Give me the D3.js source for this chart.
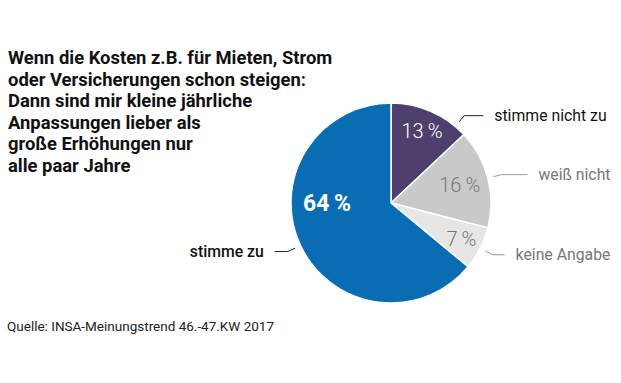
<!DOCTYPE html>
<html>
<head>
<meta charset="utf-8">
<script src="https://cdn.jsdelivr.net/npm/d3@7"></script>
<style>
  body { margin: 0; background: #fff; }
  svg { display: block; font-family: Roboto, "DejaVu Sans", sans-serif; }
</style>
</head>
<body>
<svg id="chart" width="621" height="383"></svg>
<script>
// Survey answers, clockwise from 12 o'clock
const categories = ['stimme nicht zu', 'weiß nicht', 'keine Angabe', 'stimme zu'];
const values = [13, 16, 7, 64];
const sliceColors = ['#4e3f6d', '#c9c9c9', '#e6e6e6', '#0a6db4'];

const titleLines = [
    'Wenn die Kosten z.B. für Mieten, Strom',
    'oder Versicherungen schon steigen:',
    'Dann sind mir kleine jährliche',
    'Anpassungen lieber als',
    'große Erhöhungen nur',
    'alle paar Jahre'
];
const sourceText = 'Quelle: INSA-Meinungstrend 46.-47.KW 2017';

const svg = d3.select('#chart');
const cx = 391, cy = 203, radius = 100;

// Title
svg.append('text')
    .attr('x', 8)
    .attr('y', 64)
    .attr('font-size', '18.4px')
    .attr('font-weight', 'bold')
    .attr('fill', '#111')
    .selectAll('tspan')
    .data(titleLines)
    .enter()
    .append('tspan')
    .attr('x', 8)
    .attr('dy', (d, i) => i === 0 ? 0 : 21.6)
    .text(d => d);

// Source
svg.append('text')
    .attr('x', 7)
    .attr('y', 331)
    .attr('font-size', '13.5px')
    .attr('fill', '#222')
    .text(sourceText);

const color = d3.scaleOrdinal().domain(categories).range(sliceColors);

const pie = d3.pie().sort(null).value(d => d.value);
const arcs = pie(categories.map((c, i) => ({ name: c, value: values[i] })));

const arc = d3.arc().innerRadius(0).outerRadius(radius);

const g = svg.append('g').attr('transform', `translate(${cx},${cy})`);

g.selectAll('path')
    .data(arcs)
    .enter()
    .append('path')
    .attr('d', arc)
    .attr('fill', d => color(d.data.name))
    .attr('stroke', '#fff')
    .attr('stroke-width', 1.5);

// Percent labels inside slices
const pctStyle = [
    { fill: '#fff', weight: 300, size: 20, r: 78, angle: null },
    { fill: '#777', weight: 300, size: 20, r: 71, angle: null },
    { fill: '#777', weight: 300, size: 20, r: 79, angle: null },
    { fill: '#fff', weight: 700, size: 23, r: 64, angle: -Math.PI / 2 }
];
const polar = (a, r) => [Math.sin(a) * r, -Math.cos(a) * r];

g.selectAll('text.pct')
    .data(arcs)
    .enter()
    .append('text')
    .attr('class', 'pct')
    .each(function(d, i) {
        const s = pctStyle[i];
        const a = s.angle !== null ? s.angle : (d.startAngle + d.endAngle) / 2;
        const [x, y] = polar(a, s.r);
        d3.select(this)
            .attr('x', x)
            .attr('y', y)
            .attr('text-anchor', 'middle')
            .attr('dominant-baseline', 'central')
            .attr('font-size', s.size + 'px')
            .attr('font-weight', s.weight)
            .attr('fill', s.fill)
            .text(d.data.value + '\u2009%');
    });

// Outside labels with leader lines
const labelColor = ['#111', '#777', '#777', '#111'];
const lineColor = ['#222', '#999', '#999', '#222'];
const leaderAngle = [40 * Math.PI / 180, null, null, null];
const leaderLen = [19, 26, 12, 13];

arcs.forEach((d, i) => {
    const a = leaderAngle[i] !== null ? leaderAngle[i] : (d.startAngle + d.endAngle) / 2;
    const p0 = polar(a, radius + 6);
    const p1 = polar(a, radius + 14);
    const side = Math.sin(a) >= 0 ? 1 : -1;
    const p2 = [p1[0] + side * leaderLen[i], p1[1]];

    g.append('polyline')
        .attr('points', [p0, p1, p2].map(p => p.join(',')).join(' '))
        .attr('fill', 'none')
        .attr('stroke', lineColor[i])
        .attr('stroke-width', 1);

    g.append('text')
        .attr('x', p2[0] + side * 11)
        .attr('y', p2[1])
        .attr('text-anchor', side > 0 ? 'start' : 'end')
        .attr('dominant-baseline', 'central')
        .attr('font-size', '15.8px')
        .attr('font-weight', i === 3 ? 500 : 400)
        .attr('fill', labelColor[i])
        .text(d.data.name);
});
</script>
</body>
</html>
